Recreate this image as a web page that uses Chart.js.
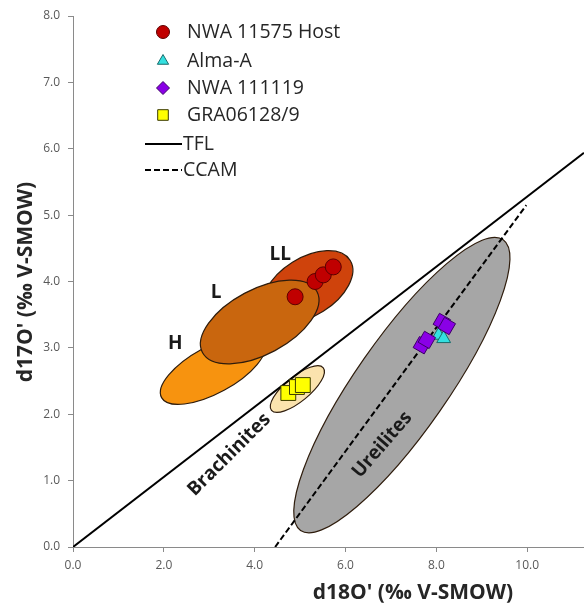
<!DOCTYPE html>
<html>
<head>
<meta charset="utf-8">
<script src="https://cdn.jsdelivr.net/npm/chart.js@4/dist/chart.umd.min.js"></script>
<style>
	body { margin: 0; background: #fff; }
</style>
</head>
<body>
<canvas id="OxygenChart" width="584" height="607"></canvas>
<script>
// values (d18O', d17O')
const hostX = [4.89, 5.33, 5.51, 5.73]
const hostY = [3.77, 4.0, 4.1, 4.22]
const almaX = [8.05, 8.16]
const almaY = [3.19, 3.14]
const nwaX = [7.68, 7.79, 8.12, 8.23]
const nwaY = [3.04, 3.12, 3.39, 3.33]
const graX = [4.74, 4.93, 5.06]
const graY = [2.32, 2.41, 2.44]
const tflX = [0, 11.25]
const tflY = [0, 5.94]
const ccamX = [4.45, 9.98]
const ccamY = [0, 5.15]

// group fields: centre, end of the long axis, width / length
const fieldNames = ["Ureilites", "Brachinites", "H", "LL", "L"]
const fieldCx = [7.24, 4.94, 3.08, 5.17, 4.11]
const fieldCy = [2.44, 2.38, 2.67, 3.92, 3.39]
const fieldTipX = [9.47, 5.51, 4.21, 6.1, 5.37]
const fieldTipY = [4.63, 2.7, 3.09, 4.32, 3.85]
const fieldRatio = [0.26, 0.37, 0.4, 0.58, 0.5]

const xTicks = [0, 2, 4, 6, 8, 10]
const yTicks = [0, 1, 2, 3, 4, 5, 6, 7, 8]

const xTitle = "d18O' (\u2030 V-SMOW)"
const yTitle = "d17O' (\u2030 V-SMOW)"

const zip = (xs, ys) => xs.map((x, i) => ({ x: x, y: ys[i] }))

const fieldColors = {
	Ureilites: "#a6a6a6",
	Brachinites: "#fbe3ae",
	H: "#f7930f",
	LL: "#cf430c",
	L: "#c9660e",
}

// text labels placed in data units: [text, x, y, rotation deg, size]
const fieldLabels = [
	["LL", 4.56, 4.41, 0, 19],
	["L", 3.15, 3.84, 0, 19],
	["H", 2.25, 3.06, 0, 19],
	["Brachinites", 3.44, 1.39, -45, 19],
	["Ureilites", 6.81, 1.54, -49, 19],
]

const fieldsPlugin = {
	id: "fields",
	beforeDatasetsDraw(chart) {
		const ctx = chart.ctx
		const xs = chart.scales.x
		const ys = chart.scales.y
		ctx.save()
		fieldNames.forEach((name, i) => {
			const cx = xs.getPixelForValue(fieldCx[i])
			const cy = ys.getPixelForValue(fieldCy[i])
			const tx = xs.getPixelForValue(fieldTipX[i])
			const ty = ys.getPixelForValue(fieldTipY[i])
			const a = Math.hypot(tx - cx, ty - cy)
			const ang = Math.atan2(ty - cy, tx - cx)
			ctx.beginPath()
			ctx.ellipse(cx, cy, a, a * fieldRatio[i], ang, 0, Math.PI * 2)
			ctx.fillStyle = fieldColors[name]
			ctx.fill()
			ctx.lineWidth = 1.2
			ctx.strokeStyle = "#2e1c0c"
			ctx.stroke()
		})
		ctx.fillStyle = "#1a1a1a"
		ctx.textAlign = "center"
		ctx.textBaseline = "middle"
		fieldLabels.forEach((l) => {
			ctx.save()
			ctx.translate(xs.getPixelForValue(l[1]), ys.getPixelForValue(l[2]))
			ctx.rotate((l[3] * Math.PI) / 180)
			ctx.font = "bold " + l[4] + "px 'Open Sans'"
			ctx.fillText(l[0], 0, 0)
			ctx.restore()
		})
		ctx.restore()
	},
}

const legendItems = [
	{ text: "NWA 11575 Host", style: "circle", r: 6.5, bg: "#c00000", bd: "#5c0000" },
	{ text: "Alma-A", style: "triangle", r: 6.5, bg: "#33e0e0", bd: "#1a6b6b" },
	{ text: "NWA 111119", style: "rectRot", r: 6.5, bg: "#8a00e6", bd: "#3d0066" },
	{ text: "GRA06128/9", style: "rect", r: 7.5, bg: "#ffff00", bd: "#3a3a00" },
	{ text: "TFL", line: [] },
	{ text: "CCAM", line: [6, 3] },
]

const overlayPlugin = {
	id: "overlay",
	afterDraw(chart) {
		const ctx = chart.ctx
		ctx.save()
		// legend
		ctx.font = "19.5px 'Open Sans'"
		ctx.textBaseline = "middle"
		ctx.textAlign = "left"
		const rowY = [32, 61, 88, 115, 144, 170]
		legendItems.forEach((item, i) => {
			const y = rowY[i]
			if (item.line) {
				ctx.beginPath()
				ctx.setLineDash(item.line)
				ctx.lineWidth = 2
				ctx.strokeStyle = "#000"
				ctx.moveTo(145, y)
				ctx.lineTo(182, y)
				ctx.stroke()
				ctx.setLineDash([])
				ctx.fillStyle = "#262626"
				ctx.fillText(item.text, 183, y)
			} else {
				ctx.fillStyle = item.bg
				ctx.strokeStyle = item.bd
				ctx.lineWidth = 1
				Chart.helpers.drawPoint(ctx, { pointStyle: item.style, radius: item.r, borderWidth: 1, rotation: 0 }, 163, y)
				ctx.fillStyle = "#262626"
				ctx.fillText(item.text, 187, y)
			}
		})
		// axis titles
		ctx.fillStyle = "#262626"
		ctx.font = "bold 21px 'Open Sans'"
		ctx.textAlign = "center"
		ctx.fillText(xTitle, 413, 593)
		ctx.translate(26, 282)
		ctx.rotate(-Math.PI / 2)
		ctx.fillText(yTitle, 0, 0)
		ctx.restore()
	},
}

const axisGrey = "#8a8a8a"
const tickFont = { family: "'Open Sans'", size: 12 }

new Chart(document.getElementById("OxygenChart").getContext("2d"), {
	type: "scatter",
	data: {
		datasets: [
			{
				label: "NWA 11575 Host",
				data: zip(hostX, hostY),
				pointStyle: "circle",
				pointRadius: 8,
				backgroundColor: "#c00000",
				borderColor: "#5c0000",
				borderWidth: 1,
				order: 1,
			},
			{
				label: "Alma-A",
				data: zip(almaX, almaY),
				pointStyle: "triangle",
				pointRadius: 8,
				backgroundColor: "#33e0e0",
				borderColor: "#1a6b6b",
				borderWidth: 1,
				order: 3,
			},
			{
				label: "NWA 111119",
				data: zip(nwaX, nwaY),
				pointStyle: "rectRot",
				pointRotation: -15,
				pointRadius: 9,
				backgroundColor: "#8a00e6",
				borderColor: "#3d0066",
				borderWidth: 1,
				order: 2,
			},
			{
				label: "GRA06128/9",
				data: zip(graX, graY),
				pointStyle: "rect",
				pointRadius: 10.5,
				backgroundColor: "#ffff00",
				borderColor: "#3a3a00",
				borderWidth: 1,
				order: 4,
			},
			{
				label: "TFL",
				data: zip(tflX, tflY),
				showLine: true,
				borderColor: "#000",
				borderWidth: 2,
				pointRadius: 0,
				order: 10,
			},
			{
				label: "CCAM",
				data: zip(ccamX, ccamY),
				showLine: true,
				borderColor: "#000",
				borderWidth: 2,
				borderDash: [6, 3],
				pointRadius: 0,
				order: 10,
			},
		],
	},
	options: {
		responsive: false,
		animation: false,
		layout: { autoPadding: false, padding: { top: 16, left: 0, right: 0, bottom: 0 } },
		plugins: {
			legend: { display: false },
			tooltip: { enabled: false },
		},
		scales: {
			x: {
				type: "linear",
				min: 0,
				max: 11.25,
				afterBuildTicks: (s) => {
					s.ticks = xTicks.map((v) => ({ value: v }))
				},
				afterFit: (s) => {
					s.height = 60
					s.paddingLeft = 0
					s.paddingRight = 0
				},
				ticks: {
					callback: (v) => Number(v).toFixed(1),
					font: tickFont,
					color: "#595959",
					padding: 6,
					maxRotation: 0,
				},
				grid: { drawOnChartArea: false, tickLength: 5, color: axisGrey },
				border: { color: axisGrey },
			},
			y: {
				type: "linear",
				min: 0,
				max: 8,
				afterBuildTicks: (s) => {
					s.ticks = yTicks.map((v) => ({ value: v }))
				},
				afterFit: (s) => {
					s.width = 73
				},
				ticks: {
					callback: (v) => Number(v).toFixed(1),
					font: tickFont,
					color: "#595959",
					padding: 8,
				},
				grid: { drawOnChartArea: false, tickLength: 5, color: axisGrey },
				border: { color: axisGrey },
			},
		},
	},
	plugins: [fieldsPlugin, overlayPlugin],
})
</script>
</body>
</html>
